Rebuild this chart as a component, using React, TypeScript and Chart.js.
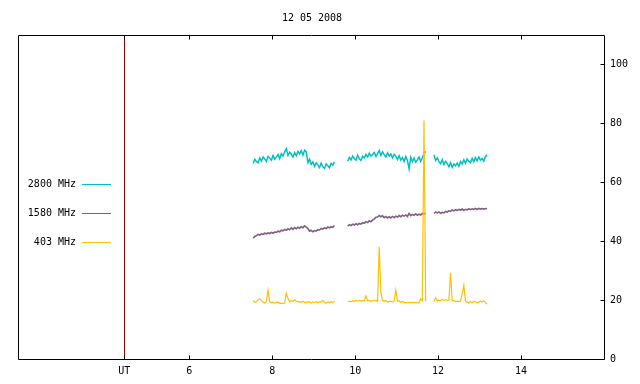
import { useEffect, useRef } from 'react';
import { Chart, registerables } from 'chart.js';

Chart.register(...registerables);

const chartTitle = '12 05 2008';
const seriesLabels = ['2800 MHz', '1580 MHz', '403 MHz'];
const seriesColors = ['#00c0c0', '#806080', '#ffc000'];
const xTickValues = [6, 8, 10, 12, 14];
const yTickValues = [0, 20, 40, 60, 80, 100];
const markerTime = 4.43;
const markerLabel = 'UT';
const xRange = [1.87, 16];
const yRange = [0, 110];

// observing segments (UT hours) and sample spacing
const segmentStarts = [7.54, 9.82, 11.9];
const sampleStep = 0.04;

const mhz2800Seg1 = [66.4, 67.8, 67.0, 66.6, 68.3, 67.2, 68.6, 67.9, 67.1, 68.8, 68.2, 67.5, 69.1, 67.8, 68.6, 69.4, 68.0, 69.7, 68.9, 70.3, 71.4, 69.1, 70.2, 69.5, 68.6, 70.1, 69.0, 70.5, 69.6, 70.8, 69.2, 70.9, 70.3, 66.7, 67.8, 66.1, 66.9, 65.4, 66.6, 65.9, 65.0, 66.5, 65.3, 64.7, 66.2, 65.6, 64.9, 66.4, 65.8, 66.9];
const mhz2800Seg2 = [67.2, 68.4, 67.6, 68.9, 68.1, 67.5, 69.2, 68.0, 67.4, 68.8, 68.3, 69.5, 68.6, 69.9, 68.9, 69.4, 70.1, 68.8, 69.7, 70.8, 69.1, 70.3, 69.4, 68.6, 70.0, 68.9, 69.6, 68.3, 69.5, 68.8, 67.7, 69.0, 67.5, 68.4, 67.1, 68.7, 67.4, 64.6, 68.5, 67.0, 68.2, 66.8, 67.6, 68.6, 67.1, 68.3, 69.8, 70.5];
const mhz2800Seg3 = [69.3, 67.4, 68.3, 67.0, 66.3, 67.7, 66.0, 67.1, 66.4, 65.3, 66.7, 65.1, 66.2, 65.6, 66.5, 65.4, 67.0, 66.2, 67.6, 66.5, 67.9, 67.1, 66.6, 68.1, 67.0, 68.4, 67.3, 68.6, 67.5, 68.1, 67.2, 68.7, 69.3];

const mhz1580Seg1 = [41.0, 41.6, 41.9, 42.3, 42.1, 42.5, 42.3, 42.7, 42.5, 42.8, 42.6, 43.0, 42.7, 43.1, 43.0, 43.4, 43.2, 43.7, 43.5, 44.0, 43.7, 44.2, 43.9, 44.5, 44.0, 44.6, 44.2, 44.7, 44.4, 44.9, 44.6, 45.2, 44.8, 44.3, 43.4, 43.7, 43.2, 43.6, 43.4, 43.9, 43.8, 44.3, 44.1, 44.6, 44.3, 44.8, 44.5, 44.9, 44.7, 45.3];
const mhz1580Seg2 = [45.1, 45.6, 45.3, 45.8, 45.5, 45.9, 45.6, 46.0, 45.8, 46.3, 46.1, 46.6, 46.3, 46.9, 46.6, 47.2, 47.5, 48.1, 48.2, 48.7, 48.3, 48.6, 48.0, 48.4, 47.9, 48.3, 47.9, 48.4, 48.0, 48.5, 48.2, 48.7, 48.3, 48.8, 48.5, 48.9, 48.4, 49.4, 48.7, 49.1, 48.8, 49.3, 48.8, 49.2, 48.9, 49.4, 49.2, 49.6];
const mhz1580Seg3 = [49.4, 49.9, 49.6, 49.9, 49.5, 49.8, 49.6, 50.1, 49.9, 50.3, 50.1, 50.6, 50.3, 50.7, 50.4, 50.8, 50.5, 50.9, 50.5, 50.8, 50.6, 51.0, 50.7, 51.0, 50.8, 51.1, 50.8, 51.1, 50.9, 51.1, 50.9, 51.1, 51.0];

const mhz403Seg1 = [19.8, 19.2, 19.4, 20.1, 20.4, 19.9, 19.3, 19.0, 19.6, 23.4, 19.5, 19.1, 19.4, 18.9, 19.3, 19.2, 18.9, 18.9, 18.9, 19.0, 22.4, 20.6, 19.4, 19.8, 19.6, 20.1, 19.6, 19.4, 19.5, 19.2, 19.6, 19.3, 19.1, 19.5, 19.3, 19.0, 19.4, 19.2, 19.5, 19.1, 19.4, 19.3, 19.9, 19.2, 19.0, 19.4, 19.1, 19.5, 19.2, 19.6];
const mhz403Seg2 = [19.5, 19.6, 19.4, 19.8, 19.6, 19.9, 19.7, 19.9, 19.6, 19.9, 19.7, 21.4, 19.8, 19.9, 19.6, 19.9, 19.7, 19.9, 19.6, 38.1, 22.5, 19.9, 19.6, 19.9, 19.3, 19.5, 19.6, 19.3, 19.7, 23.4, 19.6, 19.8, 19.2, 19.6, 19.1, 19.2, 19.1, 19.2, 19.1, 19.2, 19.1, 19.2, 19.1, 19.0, 20.4, 19.8, 81.0, 19.6];
const mhz403Seg3 = [19.5, 20.7, 19.8, 20.0, 19.8, 20.2, 19.9, 20.1, 19.9, 20.0, 29.3, 19.7, 19.9, 19.5, 19.6, 19.5, 19.6, 22.1, 25.1, 19.7, 19.3, 19.0, 19.5, 19.1, 19.6, 19.4, 19.0, 19.3, 19.6, 19.4, 19.8, 19.2, 18.6];

function buildSeries(segments: number[][]) {
  const pts: { x: number; y: number | null }[] = [];
  segments.forEach((vals, s) => {
    if (s > 0) pts.push({ x: segmentStarts[s] - 0.02, y: null });
    vals.forEach((v, i) => pts.push({ x: +(segmentStarts[s] + i * sampleStep).toFixed(2), y: v }));
  });
  return pts;
}

const FONT = '10px "DejaVu Sans Mono", monospace';
const lineWidths = [1.5, 1.6, 1.2];

const framePlugin = {
  id: 'gnuplotFrame',
  beforeDatasetsDraw(chart: any) {
    const { ctx, chartArea: a, scales } = chart;
    const xp = Math.round(scales.x.getPixelForValue(markerTime)) + 0.5;
    ctx.save();
    ctx.strokeStyle = '#a00000';
    ctx.lineWidth = 1;
    ctx.beginPath();
    ctx.moveTo(xp, a.top);
    ctx.lineTo(xp, a.bottom);
    ctx.stroke();
    ctx.restore();
  },
  afterDatasetsDraw(chart: any) {
    const { ctx, chartArea: a, scales } = chart;
    ctx.save();
    ctx.strokeStyle = '#000';
    ctx.lineWidth = 1;
    const L = a.left + 0.5, R = a.right + 0.5, T = a.top + 0.5, B = a.bottom + 0.5;
    ctx.beginPath();
    ctx.rect(L, T, R - L, B - T);
    ctx.stroke();
    ctx.beginPath();
    [markerTime, ...xTickValues].forEach((v) => {
      const xp = Math.round(scales.x.getPixelForValue(v)) + 0.5;
      ctx.moveTo(xp, B);
      ctx.lineTo(xp, B - 4);
      ctx.moveTo(xp, T);
      ctx.lineTo(xp, T + 4);
    });
    yTickValues.forEach((v) => {
      const yp = Math.round(scales.y.getPixelForValue(v)) + 0.5;
      ctx.moveTo(R, yp);
      ctx.lineTo(R - 4, yp);
    });
    ctx.stroke();
    ctx.fillStyle = '#000';
    ctx.font = FONT;
    ctx.textBaseline = 'middle';
    ctx.textAlign = 'center';
    xTickValues.forEach((v) => {
      ctx.fillText(String(v), scales.x.getPixelForValue(v), a.bottom + 12);
    });
    ctx.fillText(markerLabel, scales.x.getPixelForValue(markerTime), a.bottom + 12);
    ctx.textAlign = 'left';
    yTickValues.forEach((v) => {
      ctx.fillText(String(v), a.right + 6, scales.y.getPixelForValue(v));
    });
    ctx.textAlign = 'center';
    ctx.fillText(chartTitle, (a.left + a.right) / 2 + 1, 18);
    const legendY = [184, 213, 242];
    seriesLabels.forEach((lab, i) => {
      ctx.textAlign = 'right';
      ctx.fillStyle = '#000';
      ctx.fillText(lab, 76, legendY[i]);
      ctx.strokeStyle = seriesColors[i];
      ctx.beginPath();
      ctx.moveTo(82, legendY[i] + 0.5);
      ctx.lineTo(111, legendY[i] + 0.5);
      ctx.stroke();
    });
    ctx.restore();
  },
};

export default function App() {
  const ref = useRef<HTMLCanvasElement | null>(null);
  useEffect(() => {
    if (!ref.current) return;
    const seriesData = [
      buildSeries([mhz2800Seg1, mhz2800Seg2, mhz2800Seg3]),
      buildSeries([mhz1580Seg1, mhz1580Seg2, mhz1580Seg3]),
      buildSeries([mhz403Seg1, mhz403Seg2, mhz403Seg3]),
    ];
    const chart = new Chart(ref.current, {
      type: 'line',
      data: {
        datasets: seriesLabels.map((label, i) => ({
          label,
          data: seriesData[i] as any,
          borderColor: seriesColors[i],
          backgroundColor: seriesColors[i],
          borderWidth: lineWidths[i],
          pointRadius: 0,
          tension: 0,
          spanGaps: false,
          order: 2 - i,
        })),
      },
      options: {
        animation: false,
        responsive: false,
        devicePixelRatio: 1,
        layout: { padding: { left: 18, top: 35, right: 36, bottom: 25 } },
        scales: {
          x: { type: 'linear', min: xRange[0], max: xRange[1], display: false },
          y: { type: 'linear', min: yRange[0], max: yRange[1], display: false },
        },
        plugins: { legend: { display: false }, tooltip: { enabled: false }, title: { display: false } },
      },
      plugins: [framePlugin],
    });
    return () => chart.destroy();
  }, []);
  return (
    <div style={{ position: 'fixed', left: 0, top: 0, width: 640, height: 384, background: '#fff' }}>
      <canvas ref={ref} width={640} height={384} style={{ display: 'block' }} />
    </div>
  );
}
